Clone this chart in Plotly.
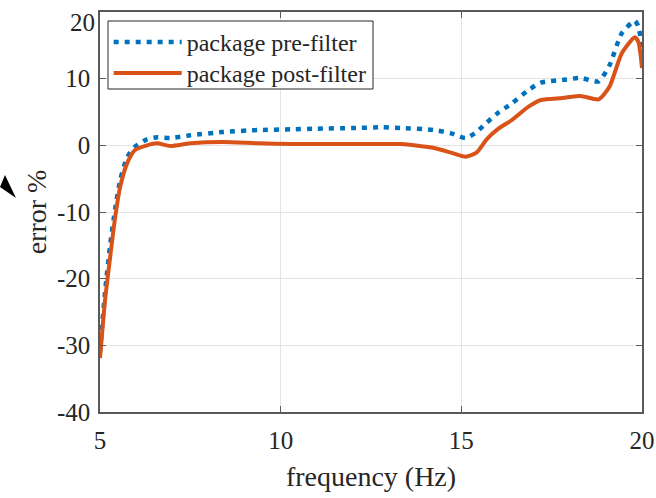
import plotly.graph_objects as go

# frequency (Hz)
freq = [5.0, 5.14, 5.28, 5.42, 5.56, 5.75, 5.97, 6.3, 6.58, 6.94, 7.5, 8.4, 9.4,
        10.3, 11.0, 12.0, 12.8, 13.33, 14.25, 14.72, 15.12, 15.42, 15.7, 16.0, 16.4,
        16.86, 17.2, 17.8, 18.3, 18.8, 19.1, 19.44, 19.8, 19.9, 20.0]

# error % before filtering
pre_filter = [-31.0, -22.0, -15.0, -9.5, -5.2, -1.8, -0.2, 0.9, 1.2, 1.1, 1.5, 2.0, 2.3,
              2.4, 2.5, 2.6, 2.7, 2.6, 2.3, 1.8, 1.1, 2.0, 3.4, 4.8, 6.3,
              8.3, 9.4, 9.8, 10.1, 9.6, 12.0, 16.8, 18.7, 17.8, 14.6]

# error % after filtering
post_filter = [-31.9, -23.2, -16.8, -10.8, -6.2, -2.7, -0.7, 0.0, 0.3, -0.1, 0.3, 0.5, 0.3,
               0.2, 0.2, 0.2, 0.2, 0.2, -0.4, -1.1, -1.7, -1.1, 0.9, 2.4, 3.8,
               5.8, 6.8, 7.1, 7.4, 6.9, 8.8, 13.8, 16.2, 15.5, 11.6]

x_ticks = [5, 10, 15, 20]
x_tick_text = ["5", "10", "15", "20"]
y_ticks = [-40, -30, -20, -10, 0, 10, 20]
y_tick_text = ["-40", "-30", "-20", "-10", "0", "10", "20"]

FONT = "Liberation Serif, Times New Roman, serif"
AX = "#5a5a5a"
TXT = "#262626"

fig = go.Figure()
fig.add_trace(go.Scatter(
    x=freq, y=pre_filter, mode="lines", name="package pre-filter", legend="legend",
    line=dict(color="#0072BD", width=4.5, dash="5px,6px", shape="spline", smoothing=0.6),
))
fig.add_trace(go.Scatter(
    x=freq, y=post_filter, mode="lines", name="package post-filter", legend="legend2",
    line=dict(color="#D95319", width=4, shape="spline", smoothing=0.6),
))

axis_common = dict(
    showline=True, linecolor=AX, linewidth=1.5, mirror="ticks",
    ticks="inside", ticklen=6, tickcolor=AX, tickwidth=1,
    showgrid=True, gridcolor="#e4e4e4", gridwidth=1, zeroline=False,
    tickfont=dict(family=FONT, size=25, color=TXT),
    ticklabeloverflow="allow",
    automargin=False,
)

leg_common = dict(x=0.016, xanchor="left", yanchor="top",
                  bgcolor="rgba(0,0,0,0)", borderwidth=0,
                  font=dict(family=FONT, size=24, color=TXT),
                  itemwidth=68)

# the top tick label sits a little lower (kept inside the figure), drawn separately
y_text_axis = y_tick_text[:-1] + [""]

fig.update_layout(
    width=656, height=498,
    margin=dict(l=100, r=14, t=12, b=86),
    paper_bgcolor="white", plot_bgcolor="white",
    font=dict(family=FONT, color=TXT),
    xaxis=dict(range=[5, 20], tickvals=x_ticks, ticktext=x_tick_text, ticklabelstandoff=5,
               title=dict(text="frequency (Hz)", font=dict(family=FONT, size=28, color=TXT), standoff=14),
               **axis_common),
    yaxis=dict(range=[-40, 20], tickvals=y_ticks, ticktext=y_text_axis, ticklabelstandoff=3,
               title=dict(text="error %", font=dict(family=FONT, size=28, color=TXT), standoff=2),
               **axis_common),
    legend=dict(y=0.98, **leg_common),
    legend2=dict(y=0.9025, **leg_common),
    showlegend=True,
)

fig.add_annotation(x=0, xref="paper", xanchor="right", xshift=-3,
                   y=y_ticks[-1], yref="y", yanchor="middle", yshift=-10,
                   text=y_tick_text[-1], showarrow=False,
                   font=dict(family=FONT, size=25, color=TXT))

def px2paper(px, py):
    return (px - 100) / 542, (412 - py) / 400

# legend frame
x0, y0 = px2paper(108, 89)
x1, y1 = px2paper(373, 21)
fig.add_shape(type="rect", xref="paper", yref="paper", x0=x0, y0=y0, x1=x1, y1=y1,
              line=dict(color=TXT, width=1), fillcolor="white", layer="above")

# small black triangle artifact at the left edge
pts = [px2paper(5, 175), px2paper(0, 187), px2paper(16, 198)]
path = "M {:.4f} {:.4f} L {:.4f} {:.4f} L {:.4f} {:.4f} Z".format(*pts[0], *pts[1], *pts[2])
fig.add_shape(type="path", xref="paper", yref="paper", path=path,
              fillcolor="black", line=dict(color="black", width=0))

fig.write_html("out.html", config={"displayModeBar": False},
               post_script="document.body.style.margin='0';")
